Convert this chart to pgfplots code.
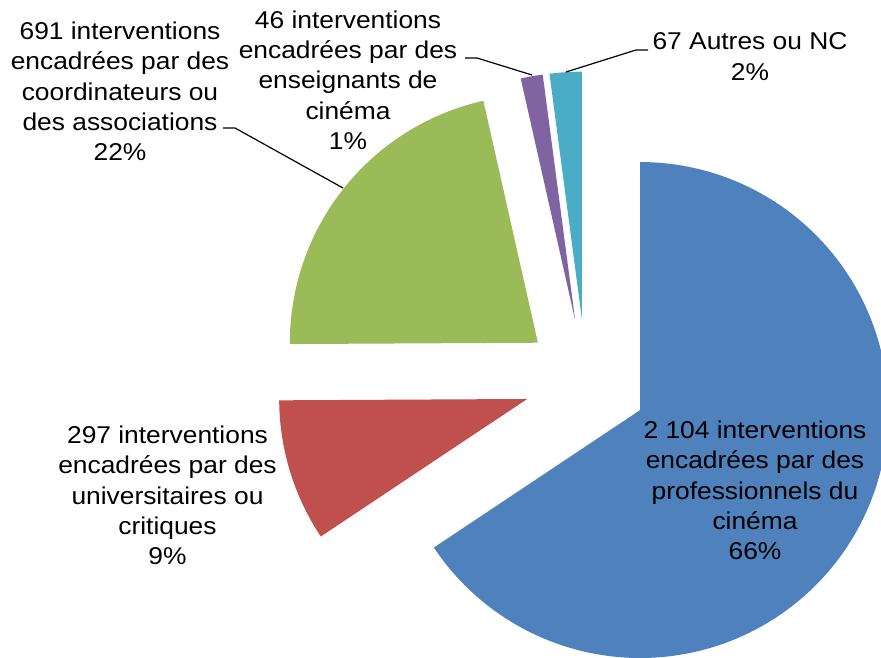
\documentclass[border=0pt]{standalone}
\usepackage{pgfplots}
\usepackage{pgfplotstable}
\pgfplotsset{compat=1.18}
\usepackage{fontspec}
\setmainfont{Liberation Sans}[FakeStretch=1.085]

\definecolor{cBlue}{HTML}{4F81BD}
\definecolor{cRed}{HTML}{C0504D}
\definecolor{cGreen}{HTML}{9BBB59}
\definecolor{cPurple}{HTML}{8064A2}
\definecolor{cTeal}{HTML}{4BACC6}

\pgfplotstableread{
value
2104
297
691
46
67
}\pietable

\newcommand\pieslice[3]{%
 \pgfmathsetmacro\aS{90-360*(#2/\total)}%
 \pgfmathsetmacro\aE{90-360*(#1/\total)}%
 \pgfmathsetmacro\aM{(\aS+\aE)/2}%
 \pgfmathsetmacro\px{586+61.5*cos(\aM)}%
 \pgfmathsetmacro\py{276+61.5*sin(\aM)}%
 \edef\doslice{\noexpand\addplot[fill=#3, draw=none, domain=\aS:\aE, samples=150, variable=\noexpand\t] ({\px+248*cos(\noexpand\t)}, {\py+248*sin(\noexpand\t)}) -- (axis cs:\px,\py) -- cycle;}%
 \doslice
}

\begin{document}
\pgfplotstablegetelem{0}{value}\of\pietable \edef\vA{\pgfplotsretval}%
\pgfplotstablegetelem{1}{value}\of\pietable \edef\vB{\pgfplotsretval}%
\pgfplotstablegetelem{2}{value}\of\pietable \edef\vC{\pgfplotsretval}%
\pgfplotstablegetelem{3}{value}\of\pietable \edef\vD{\pgfplotsretval}%
\pgfplotstablegetelem{4}{value}\of\pietable \edef\vE{\pgfplotsretval}%
\pgfmathsetmacro\total{\vA+\vB+\vC+\vD+\vE}%
\pgfmathsetmacro\cA{0}%
\pgfmathsetmacro\cB{\vA}%
\pgfmathsetmacro\cC{\vA+\vB}%
\pgfmathsetmacro\cD{\vA+\vB+\vC}%
\pgfmathsetmacro\cE{\vA+\vB+\vC+\vD}%
\pgfmathsetmacro\cF{\total}%
\begin{tikzpicture}
\begin{axis}[name=ax, scale only axis, width=881pt, height=657pt,
  xmin=0, xmax=881, ymin=0, ymax=657, hide axis, clip=true]
\pieslice{\cA}{\cB}{cBlue}
\pieslice{\cB}{\cC}{cRed}
\pieslice{\cC}{\cD}{cGreen}
\pieslice{\cD}{\cE}{cPurple}
\pieslice{\cE}{\cF}{cTeal}
\draw[black, line width=1.2pt] (axis cs:223,529) -- (axis cs:235,529) -- (axis cs:343,469);
\draw[black, line width=1.2pt] (axis cs:465,599) -- (axis cs:477,599) -- (axis cs:532,582);
\draw[black, line width=1.2pt] (axis cs:648,607) -- (axis cs:636,607) -- (axis cs:566,585);
\tikzset{lab/.style={inner sep=0pt, align=center, font=\fontsize{24.3}{30.3}\selectfont}}
\node[lab] at (axis cs:755,166.5) {2 104 interventions\\encadrées par des\\professionnels du\\cinéma\\66\%};
\node[lab] at (axis cs:167.5,161.5) {297 interventions\\encadrées par des\\universitaires ou\\critiques\\9\%};
\node[lab] at (axis cs:120,565.5) {691 interventions\\encadrées par des\\coordinateurs ou\\des associations\\22\%};
\node[lab] at (axis cs:348,577) {46 interventions\\encadrées par des\\enseignants de\\cinéma\\1\%};
\node[lab] at (axis cs:750,600.5) {67 Autres ou NC\\2\%};
\end{axis}
\pgfresetboundingbox
\path (ax.south west) rectangle (ax.north east);
\end{tikzpicture}
\end{document}
